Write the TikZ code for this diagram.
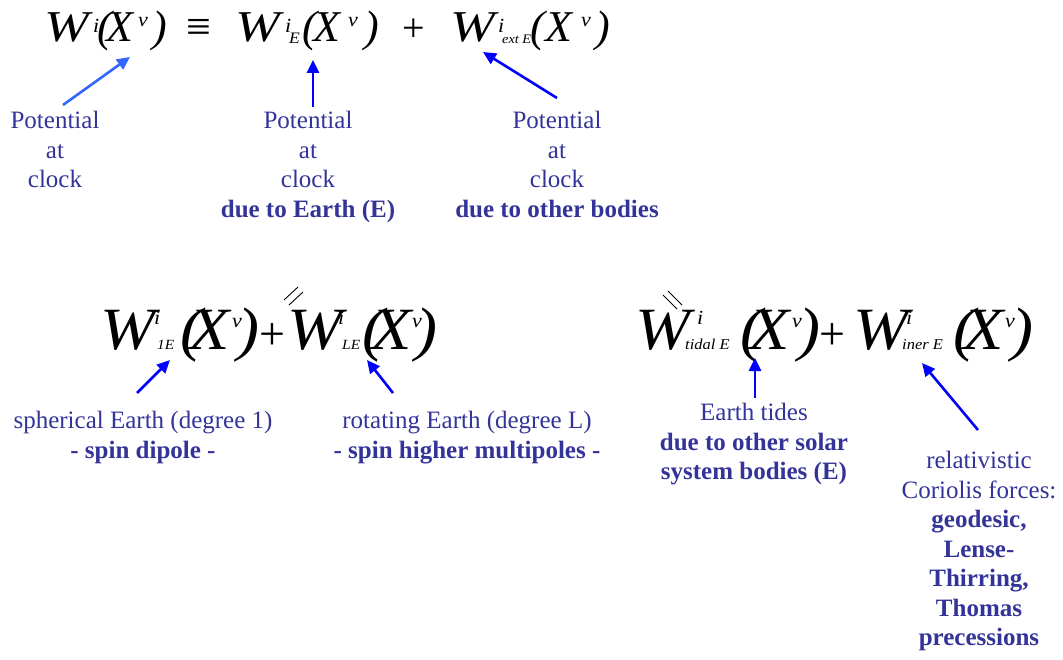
\documentclass[tikz,border=0pt]{standalone}
\usepackage{fontspec}
\setmainfont{Liberation Serif}
\usetikzlibrary{arrows.meta}
\definecolor{labtxt}{HTML}{333399}
\definecolor{arrblue}{HTML}{0000FF}
\definecolor{arrlight}{HTML}{3366FF}

\tikzset{
  eqbig/.style={anchor=base west, inner sep=0pt, font=\fontsize{44}{44}\selectfont\itshape},
  eqwide/.style={eqbig, xscale=1.22, transform shape},
  eqlow/.style={anchor=base west, inner sep=0pt, xscale=1.1, transform shape, font=\fontsize{60}{60}\selectfont\itshape},
  eqsup/.style={anchor=base west, inner sep=0pt, xscale=1.1, transform shape, font=\fontsize{20}{20}\selectfont\itshape},
  eqsub/.style={anchor=base west, inner sep=0pt, xscale=1.1, transform shape, font=\fontsize{16}{16}\selectfont\itshape},
  eqsubs/.style={anchor=base west, inner sep=0pt, xscale=1.1, transform shape, font=\fontsize{15}{15}\selectfont\itshape},
  eqop/.style={anchor=base west, inner sep=0pt, font=\fontsize{#1}{#1}\selectfont},
  lab/.style={anchor=north, align=center, inner sep=0pt, text=labtxt, font=\fontsize{25}{29.5}\selectfont},
  arr/.style={-{Triangle[length=13pt,width=12pt]}, line width=2.6pt, draw=arrblue},
  tick/.style={line width=0.9pt, black}
}

\begin{document}
\begin{tikzpicture}[x=1pt, y=-1pt]
  \useasboundingbox (0,0) rectangle (1063,660);
  % top equation
  \foreach \x/\g [count=\k] in {44/W, 235/W, 450/W}
    \node[eqwide] (topw\k) at (\x,42) {\g};
  \foreach \x/\g [count=\k] in {97/{(}, 106/X, 152/{)}, 302/{(}, 313/X, 364/{)}, 530/{(}, 545/X, 595/{)}}
    \node[eqbig] (top\k) at (\x,42) {\g};
  \node[eqop=44] (equiv) at (186,42) {≡};
  \node[eqop=40] (plus1) at (402,42) {+};
  \foreach \x/\y/\g [count=\k] in {93/33/i, 138/27/ν, 285/33/i, 348/27/ν, 498/33/i, 581/27/ν}
    \node[eqsup] (topsup\k) at (\x,\y) {\g};
  \node[eqsub] (topsub1) at (289,44) {E};
  \node[eqsub, font=\fontsize{13}{13}\selectfont\itshape] (topsub2) at (502,44) {ext E};
  % second row, left
  \foreach \x/\g [count=\k] in {100/W, 180/{(}, 189/X, 237/{)}, 287/W, 362/{(}, 371/X, 415/{)}}
    \node[eqlow] (low\k) at (\x,349) {\g};
  \node[eqop=46] (plus2) at (259,349) {+};
  \foreach \x/\y/\g [count=\k] in {154/325/i, 232/327/ν, 338/325/i, 412/327/ν}
    \node[eqsup] (lowsup\k) at (\x,\y) {\g};
  \node[eqsubs, font=\fontsize{14}{14}\selectfont\itshape] (lowsub1) at (157,349) {1E};
  \node[eqsubs, font=\fontsize{14}{14}\selectfont\itshape] (lowsub2) at (342,349) {LE};
  \draw[tick] (284,300) -- (298,287);
  \draw[tick] (289,305) -- (303,292);
  % second row, right
  \foreach \x/\g [count=\k] in {635/W, 740/{(}, 749/X, 798/{)}, 853/W, 953/{(}, 963/X, 1011/{)}}
    \node[eqlow] (rgt\k) at (\x,349) {\g};
  \node[eqop=46] (plus3) at (819,349) {+};
  \foreach \x/\y/\g [count=\k] in {697/325/i, 792/327/ν, 906/325/i, 1005/327/ν}
    \node[eqsup] (rgtsup\k) at (\x,\y) {\g};
  \node[eqsubs] (rgtsub1) at (685,349) {tidal E};
  \node[eqsubs] (rgtsub2) at (902,349) {iner E};
  \draw[tick] (663,295) -- (677,309);
  \draw[tick] (668,291) -- (682,305);
  % labels
  \node[lab] (lab1) at (55,111) {Potential\\at\\clock};
  \node[lab] (lab2) at (308,111) {Potential\\at\\clock\\\textbf{due to Earth (E)}};
  \node[lab] (lab3) at (557,111) {Potential\\at\\clock\\\textbf{due to other bodies}};
  \node[lab] (lab4) at (143,411) {spherical Earth (degree 1)\\\textbf{- spin dipole -}};
  \node[lab] (lab5) at (467,411) {rotating Earth (degree L)\\\textbf{- spin higher multipoles -}};
  \node[lab] (lab6) at (754,403) {Earth tides\\\textbf{due to other solar}\\\textbf{system bodies (E)}};
  \node[lab] (lab7) at (979,451) {relativistic\\Coriolis forces:\\\textbf{geodesic,}\\\textbf{Lense-}\\\textbf{Thirring,}\\\textbf{Thomas}\\\textbf{precessions}};
  % arrow tips
  \coordinate (tip1) at (130,57);
  \coordinate (tip2) at (313,60);
  \coordinate (tip3) at (483,52);
  \coordinate (tip4) at (170,360);
  \coordinate (tip5) at (367,360);
  \coordinate (tip6) at (755,358);
  \coordinate (tip7) at (922,363);
  % arrows
  \draw[arr, draw=arrlight] ([xshift=8pt,yshift=6pt]lab1.north) -- (tip1);
  \draw[arr] ([xshift=5pt,yshift=4pt]lab2.north) -- (tip2);
  \draw[arr] ([yshift=13pt]lab3.north) -- (tip3);
  \draw[arr] ([xshift=-6pt,yshift=18pt]lab4.north) -- (tip4);
  \draw[arr] ([xshift=-74pt,yshift=18pt]lab5.north) -- (tip5);
  \draw[arr] ([xshift=1pt,yshift=5pt]lab6.north) -- (tip6);
  \draw[arr] ([xshift=-1pt,yshift=21pt]lab7.north) -- (tip7);
\end{tikzpicture}
\end{document}
